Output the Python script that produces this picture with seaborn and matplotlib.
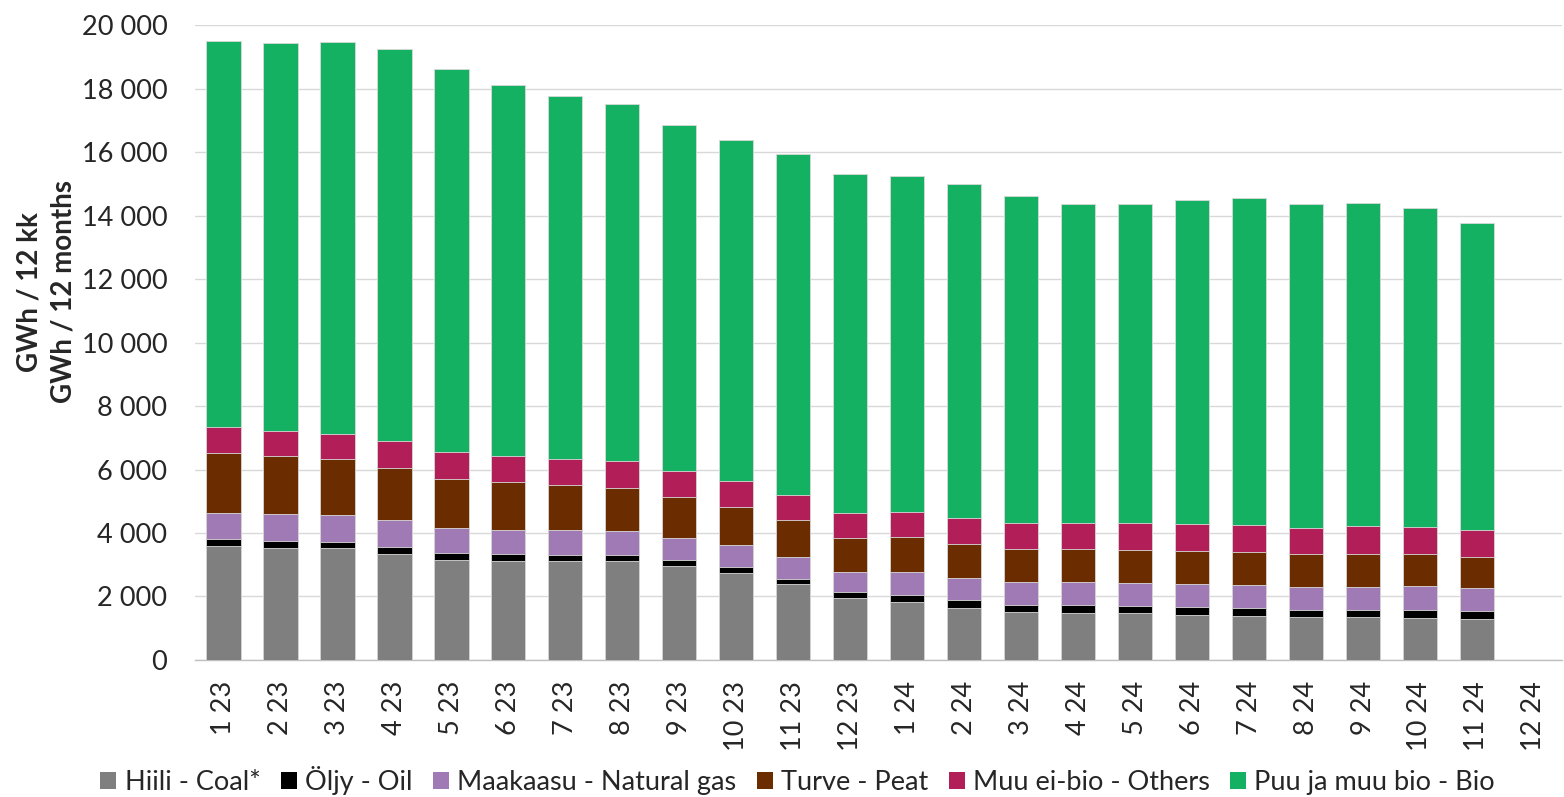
import matplotlib
matplotlib.use("Agg")
import matplotlib.pyplot as plt
from matplotlib.patches import Patch
from matplotlib.ticker import FuncFormatter, FixedLocator
import numpy as np
import pandas as pd
import seaborn as sns

months = ['1 23', '2 23', '3 23', '4 23', '5 23', '6 23', '7 23', '8 23', '9 23',
          '10 23', '11 23', '12 23', '1 24', '2 24', '3 24', '4 24', '5 24', '6 24',
          '7 24', '8 24', '9 24', '10 24', '11 24', '12 24']

# GWh / 12 months, rolling; 12 24 not yet available
coal = [3590, 3537, 3516, 3337, 3158, 3126, 3126, 3126, 2947, 2726, 2379, 1947,
        1821, 1653, 1505, 1495, 1474, 1432, 1400, 1347, 1347, 1316, 1284]
oil = [220, 210, 200, 221, 210, 211, 190, 190, 200, 190, 179, 190,
       211, 231, 221, 231, 221, 231, 232, 221, 221, 252, 253]
gas = [820, 842, 842, 842, 800, 768, 768, 747, 706, 695, 695, 621,
       736, 695, 727, 727, 726, 726, 726, 727, 737, 758, 726]
peat = [1905, 1822, 1758, 1663, 1548, 1495, 1421, 1369, 1294, 1221, 1158, 1074,
        1095, 1084, 1052, 1052, 1053, 1053, 1053, 1031, 1042, 1021, 969]
others = [800, 810, 810, 821, 821, 811, 811, 821, 821, 810, 800, 810,
          811, 800, 811, 821, 831, 842, 831, 832, 864, 853, 852]
bio = [12165, 12209, 12354, 12346, 12063, 11689, 11434, 11267, 10882, 10738, 10739, 10658,
       10576, 10537, 10284, 10024, 10065, 10216, 10318, 10202, 10189, 10030, 9696]

series = ['Hiili - Coal*', 'Öljy - Oil', 'Maakaasu - Natural gas', 'Turve - Peat',
          'Muu ei-bio - Others', 'Puu ja muu bio - Bio']
colors = ['#7F7F7F', '#000000', '#A07AB4', '#6B2C00', '#B11E58', '#15B163']

df = pd.DataFrame({'month': months[:len(coal)], 'coal': coal, 'oil': oil, 'gas': gas,
                   'peat': peat, 'others': others, 'bio': bio})
cols = ['coal', 'oil', 'gas', 'peat', 'others', 'bio']
cum = df[cols].cumsum(axis=1)
cum['month'] = df['month']

sns.set_style('white')
plt.rcParams['font.family'] = ['Lato', 'DejaVu Sans']

fig = plt.figure(figsize=(15.64, 7.97), dpi=100)
ax = fig.add_axes([0.1247, 0.1719, 0.8743, 0.7967])

# draw cumulative totals from top down so each layer overlays the previous
for col, color in zip(reversed(cols), reversed(colors)):
    sns.barplot(data=cum, x='month', y=col, order=months, color=color, saturation=1,
                width=0.6, edgecolor='#DADADA', linewidth=0.6, ax=ax, zorder=3)

ax.set_ylim(0, 20000)
ax.set_xlim(-0.5, len(months) - 0.5)
ax.set_yticks(np.arange(0, 20001, 2000))
ax.yaxis.set_major_formatter(FuncFormatter(lambda v, p: f'{int(v):,}'.replace(',', ' ')))
ax.grid(axis='y', color='#D9D9D9', linewidth=1, zorder=0)
ax.set_axisbelow(True)

ax.set_xticks(range(len(months)))
ax.set_xticklabels(months, rotation=90, fontsize=19.5)
ax.xaxis.set_minor_locator(FixedLocator(np.arange(-0.5, len(months), 1.0)))
ax.tick_params(axis='x', which='major', length=0, pad=15)
ax.tick_params(axis='x', which='minor', length=6.5, color='#BFBFBF', width=1)
ax.tick_params(axis='y', labelsize=19.5, length=0, pad=20)
ax.set_xlabel('')

ax.set_ylabel('GWh / 12 kk\nGWh / 12 months', fontsize=20, fontweight='bold', linespacing=1.35)
ax.yaxis.set_label_coords(-0.087, 0.58)

for s in ['top', 'right', 'left']:
    ax.spines[s].set_visible(False)
ax.spines['bottom'].set_color('#BFBFBF')
ax.spines['bottom'].set_linewidth(1)

handles = [Patch(facecolor=c, edgecolor='none') for c in colors]
fig.legend(handles, series, loc='lower center', bbox_to_anchor=(0.51, -0.028), ncol=6,
           frameon=False, fontsize=19.5, handlelength=0.6, handleheight=0.6,
           handletextpad=0.3, columnspacing=0.75)

fig.savefig('out.png', dpi=100)
